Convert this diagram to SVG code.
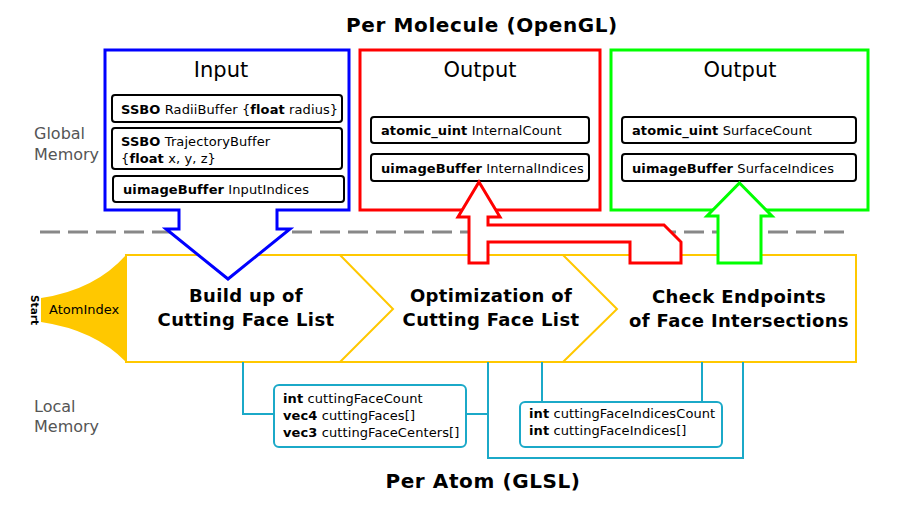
<svg xmlns="http://www.w3.org/2000/svg" width="900" height="509" viewBox="0 0 900 509">
<style>
text{font-family:"DejaVu Sans","Noto Sans",sans-serif;fill:#000}
.b{font-weight:bold}
.title{font-size:20px;font-weight:bold;text-anchor:middle;letter-spacing:0.6px}
.mem{font-size:16px;fill:#555}
.hdr{font-size:21px;text-anchor:middle}
.t13{font-size:13px;letter-spacing:0.1px}
.stage{font-size:18px;font-weight:bold;text-anchor:middle;letter-spacing:0.35px}
.ibox{fill:#fff;stroke:#000;stroke-width:2}
.cy{fill:none;stroke:#1ba9c8;stroke-width:2}
.cybox{fill:#fff;stroke:#1ba9c8;stroke-width:2}
.yl{fill:none;stroke:#ffc800;stroke-width:2}
</style>
<rect width="900" height="509" fill="#fff"/>
<text class="title" x="482" y="32">Per Molecule (OpenGL)</text>
<text class="title" x="483" y="488">Per Atom (GLSL)</text>
<g id="labels">
<text class="mem" x="34" y="139">Global</text>
<text class="mem" x="34" y="160">Memory</text>
<text class="mem" x="34" y="412">Local</text>
<text class="mem" x="34" y="432">Memory</text>
</g>
<line x1="40" y1="232" x2="850" y2="232" stroke="#888" stroke-width="3" stroke-dasharray="20 8"/>
<g id="pipeline">
<g id="start">
<path d="M41,298 Q95,290 126,255 V362 Q95,330 41,322 Z" fill="#ffc800"/>
<text class="b" font-size="10.5" text-anchor="middle" transform="translate(31,310) rotate(90)">Start</text>
<text x="49" y="314" font-size="13">AtomIndex</text>
</g>
<rect class="yl" x="126" y="255" width="730" height="107" fill="#fff"/>
<polyline class="yl" points="340,255 393,309 340,362"/>
<polyline class="yl" points="563,255 617,309 563,362"/>
<g id="stage1">
<text class="stage" x="246" y="302">Build up of</text>
<text class="stage" x="246" y="326">Cutting Face List</text>
</g>
<g id="stage2">
<text class="stage" x="491" y="302">Optimization of</text>
<text class="stage" x="491" y="326">Cutting Face List</text>
</g>
<g id="stage3">
<text class="stage" x="739" y="303">Check Endpoints</text>
<text class="stage" x="739" y="327">of Face Intersections</text>
</g>
</g>
<g id="connectors">
<polyline class="cy" points="243,362 243,414 274,414"/>
<line class="cy" x1="466" y1="414" x2="488" y2="414"/>
<polyline class="cy" points="488,362 488,458 743,458 743,362"/>
<line class="cy" x1="542" y1="362" x2="542" y2="402"/>
<line class="cy" x1="702" y1="362" x2="702" y2="402"/>
</g>
<g id="local1">
<rect class="cybox" x="274" y="385" width="192" height="62" rx="5"/>
<text class="t13" x="283" y="403"><tspan class="b">int</tspan> cuttingFaceCount</text>
<text class="t13" x="283" y="420"><tspan class="b">vec4</tspan> cuttingFaces[]</text>
<text class="t13" x="283" y="437"><tspan class="b">vec3</tspan> cuttingFaceCenters[]</text>
</g>
<g id="local2">
<rect class="cybox" x="520" y="402" width="202" height="45" rx="5"/>
<text class="t13" x="529" y="418"><tspan class="b">int</tspan> cuttingFaceIndicesCount</text>
<text class="t13" x="529" y="435"><tspan class="b">int</tspan> cuttingFaceIndices[]</text>
</g>
<g id="input">
<path d="M105,50 H349 V210 H277 V229 H290 L228,279 L166,229 H179 V210 H105 Z" fill="#fff" stroke="#0000ff" stroke-width="3"/>
<text class="hdr" x="221" y="77">Input</text>
<rect class="ibox" x="112" y="95" width="230" height="27" rx="3"/>
<text class="t13" x="121" y="114"><tspan class="b">SSBO</tspan> RadiiBuffer {<tspan class="b">float</tspan> radius}</text>
<rect class="ibox" x="112" y="128" width="230" height="41" rx="3"/>
<text class="t13" x="121" y="146"><tspan class="b">SSBO</tspan> TrajectoryBuffer</text>
<text class="t13" x="121" y="163">{<tspan class="b">float</tspan> x, y, z}</text>
<rect class="ibox" x="113" y="176" width="231" height="26" rx="3"/>
<text class="t13" x="123" y="194"><tspan class="b">uimageBuffer</tspan> InputIndices</text>
</g>
<g id="output-internal">
<rect x="360" y="50" width="240" height="160" fill="#fff" stroke="#ff0000" stroke-width="3"/>
<text class="hdr" x="480" y="77">Output</text>
<rect class="ibox" x="371" y="117" width="218" height="26" rx="3"/>
<text class="t13" x="381" y="135"><tspan class="b">atomic_uint</tspan> InternalCount</text>
<rect class="ibox" x="371" y="154" width="218" height="27" rx="3"/>
<text class="t13" x="381" y="173"><tspan class="b">uimageBuffer</tspan> InternalIndices</text>
<path d="M479,182 L500,217 H488 V225 H664 L681,242 V263 H630 V242 H488 V263 H469 V217 H458 Z" fill="#fff" stroke="#ff0000" stroke-width="3"/>
</g>
<g id="output-surface">
<rect x="611" y="50" width="257" height="160" fill="#fff" stroke="#00ff00" stroke-width="3"/>
<text class="hdr" x="740" y="77">Output</text>
<rect class="ibox" x="622" y="117" width="234" height="26" rx="3"/>
<text class="t13" x="632" y="135"><tspan class="b">atomic_uint</tspan> SurfaceCount</text>
<rect class="ibox" x="622" y="154" width="234" height="27" rx="3"/>
<text class="t13" x="632" y="173"><tspan class="b">uimageBuffer</tspan> SurfaceIndices</text>
<path d="M739.5,183 L772,216 H761 V263 H718 V216 H707 Z" fill="#fff" stroke="#00ff00" stroke-width="3"/>
</g>
</svg>
